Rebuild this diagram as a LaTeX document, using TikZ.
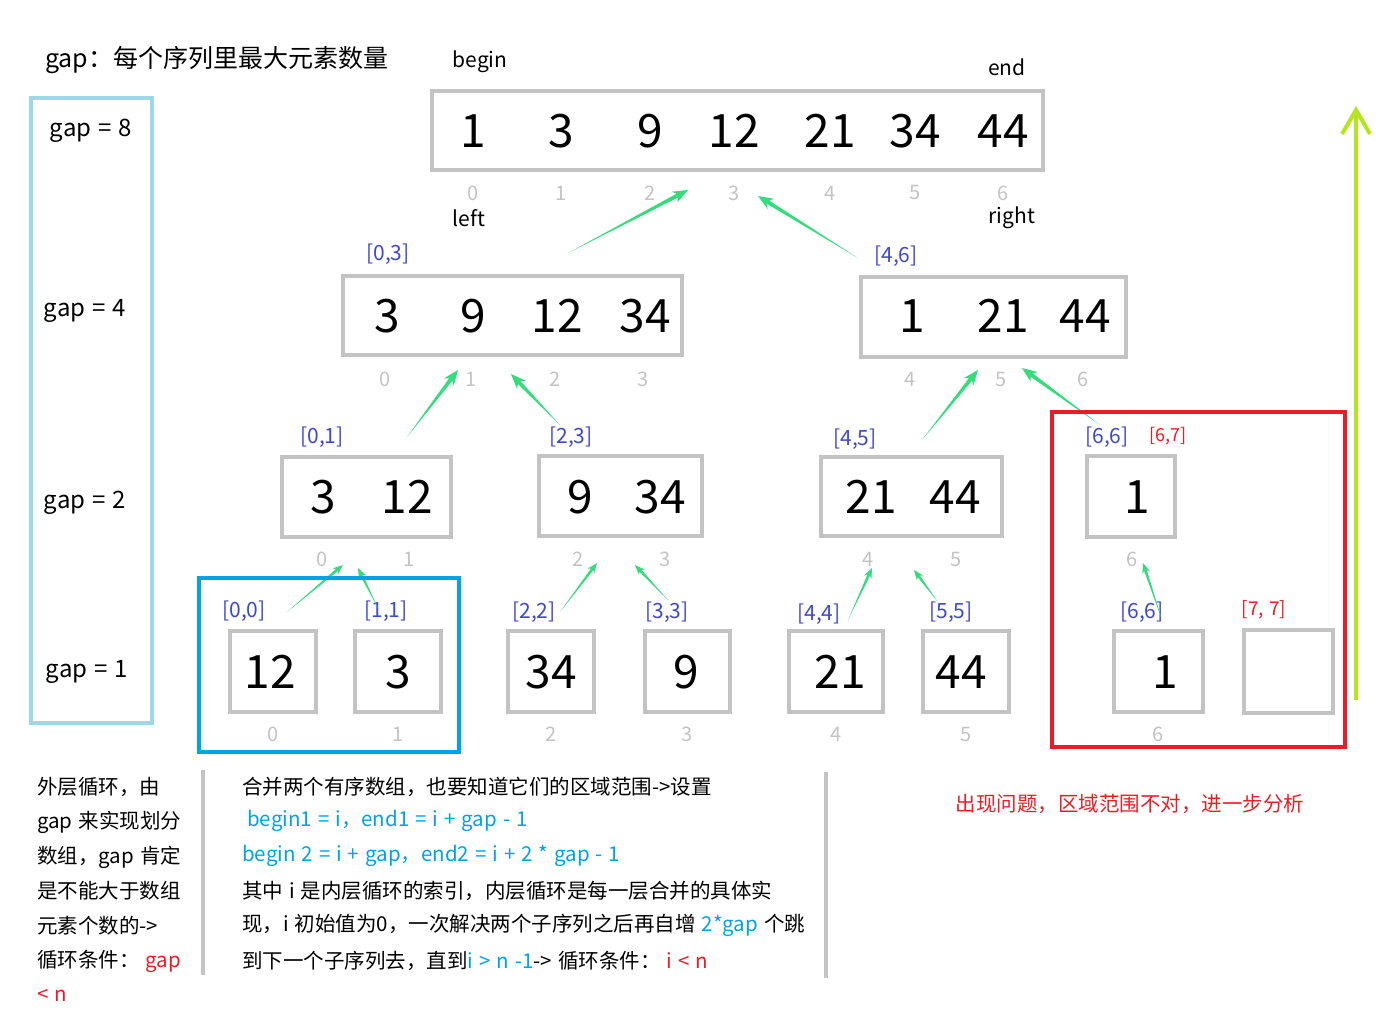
\documentclass[tikz,border=0pt]{standalone}
\usepackage{fontspec}
\setmainfont[WordSpace=1.3]{Noto Sans CJK SC}
\usepackage{tikz}
\usetikzlibrary{arrows.meta,calc}

\definecolor{paintgray}{HTML}{C3C3C3}
\definecolor{paintred}{HTML}{ED1C24}
\definecolor{paintblue}{HTML}{00A2E8}
\definecolor{paintindigo}{HTML}{3F48CC}
\definecolor{paintturq}{HTML}{99D9EA}
\definecolor{paintlime}{HTML}{B5E61D}
\definecolor{arrowgreen}{HTML}{34DC7C}

% tapered green arrow, thin at the tail
\newcommand{\greenarrow}[2]{%
  \fill[arrowgreen] (#1) -- ($(#2)!\arrowlen*0.8!(#1)!\shaftwid!90:(#1)$)
    -- ($(#2)!\arrowlen!(#1)!\arrowwid!90:(#1)$) -- (#2)
    -- ($(#2)!\arrowlen!(#1)!\arrowwid!-90:(#1)$)
    -- ($(#2)!\arrowlen*0.8!(#1)!\shaftwid!-90:(#1)$) -- cycle;}

\begin{document}
\begin{tikzpicture}[x=1pt,y=-1pt,
  cellbox/.style={draw=paintgray, line width=4pt, inner sep=0pt},
  num/.style={font=\fontsize{46}{50}\selectfont},
  idx/.style={text=paintgray, font=\fontsize{20}{24}\selectfont},
  rangelabel/.style={text=paintindigo, font=\fontsize{21}{24}\selectfont},
  plaintext/.style={font=\fontsize{21}{24}\selectfont},
  note/.style={font=\fontsize{20.5}{24}\selectfont, anchor=west, inner sep=0pt}]
  \useasboundingbox (0,0) rectangle (1396,1032);

  % Title and gap panel
  \node[anchor=west, inner sep=0pt, font=\fontsize{25}{28}\selectfont] (title) at (45,60) {gap：每个序列里最大元素数量};
  \draw[paintturq, line width=4pt] (31,98) rectangle (152,723);
  \node[plaintext, font=\fontsize{24}{26}\selectfont] (gap8) at (91,131) {gap = 8};
  \node[plaintext, font=\fontsize{24}{26}\selectfont] (gap4) at (85,311) {gap = 4};
  \node[plaintext, font=\fontsize{24}{26}\selectfont] (gap2) at (85,503) {gap = 2};
  \node[plaintext, font=\fontsize{24}{26}\selectfont] (gap1) at (87,672) {gap = 1};

  % Top row: whole array
  \node[cellbox, minimum width=611pt, minimum height=79pt] (row8) at (737.5,131) {};
  \foreach \v/\x [count=\i from 0] in {1/473,3/561,9/650,12/734,21/830,34/915,44/1003} {
    \node[num] (top\i) at (\x,131) {\v};
    \node[idx] (topidx\i) at (\x,193) {\i};
  }
  \node[plaintext] (begin) at (480,62) {begin};
  \node[plaintext] (end) at (1007,67) {end};
  \node[plaintext] (left) at (469,218) {left};
  \node[plaintext] (right) at (1012,218) {right};

  % gap = 4
  \node[cellbox, minimum width=339pt, minimum height=79pt] (rowfourA) at (512.5,315.5) {};
  \node[cellbox, minimum width=265pt, minimum height=80pt] (rowfourB) at (993.5,317) {};
  \foreach \v/\x/\k in {3/387/0, 9/473/1, 12/557/2, 34/645/3, 1/912/4, 21/1003/5, 44/1085/6} {
    \node[num] (four\k) at (\x,316) {\v};
    \node[idx] (fouridx\k) at (\x-2,379) {\k};
  }

  % gap = 2
  \node[cellbox, minimum width=169pt, minimum height=80pt] (rowtwoA) at (366.5,497) {};
  \node[cellbox, minimum width=163pt, minimum height=80pt] (rowtwoB) at (620.5,496) {};
  \node[cellbox, minimum width=181pt, minimum height=79pt] (rowtwoC) at (911.5,496.5) {};
  \node[cellbox, minimum width=88pt, minimum height=81pt] (rowtwoD) at (1130.5,496) {};
  \foreach \v/\x/\ix/\k in {3/323/322/0, 12/407/409/1, 9/580/578/2, 34/660/665/3, 21/871/868/4, 44/955/956/5, 1/1137/1132/6} {
    \node[num] (two\k) at (\x,497) {\v};
    \node[idx] (twoidx\k) at (\ix,559) {\k};
  }

  % gap = 1
  \foreach \v/\bx/\nx/\w/\k in {12/273/270/86/0, 3/398/398/86/1, 34/551/551/86/2, 9/687/686/85/3, 21/836/840/94/4, 44/966/961/86/5, 1/1158/1165/89/6} {
    \node[cellbox, minimum width=\w pt, minimum height=81pt] (cell\k) at (\bx,671.5) {};
    \node[num] (one\k) at (\nx,672) {\v};
    \node[idx] (oneidx\k) at (\bx,734) {\k};
  }
  \node[cellbox, minimum width=89pt, minimum height=83pt] (cellseven) at (1288.5,671.5) {};

  % Ranges
  \foreach \t/\x/\y/\n in {{[0,3]}/388/254/a, {[4,6]}/896/256/b, {[0,1]}/322/437/c, {[2,3]}/571/437/d,
      {[4,5]}/855/439/e, {[6,6]}/1107/437/f, {[0,0]}/244/611/g, {[1,1]}/386/611/h, {[2,2]}/534/612/i,
      {[3,3]}/667/612/j, {[4,4]}/819/614/k, {[5,5]}/951/612/l, {[6,6]}/1142/612/m} {
    \node[rangelabel] (range\n) at (\x,\y) {\t};
  }
  \node[rangelabel, text=paintred, font=\fontsize{18}{20}\selectfont] (rangesix) at (1168,436) {[6,7]};
  \node[rangelabel, text=paintred, font=\fontsize{19}{22}\selectfont] (rangeseven) at (1264,610) {[7, 7]};

  % Merge arrows
  \def\arrowlen{15pt}\def\arrowwid{6pt}\def\shaftwid{2pt}
  \foreach \i/\tx/\ty/\hx/\hy in {1/568/253/688/190, 2/858/258/758/196, 3/407/437/458/370,
      4/560/425/511/374, 5/922/440/978/370, 6/1100/425/1022/368} {
    \coordinate (tail\i) at (\tx,\ty);
    \coordinate (head\i) at (\hx,\hy);
    \greenarrow{tail\i}{head\i}
  }
  \def\arrowlen{10pt}\def\arrowwid{4pt}\def\shaftwid{1.4pt}
  \foreach \i/\tx/\ty/\hx/\hy in {7/287/612/343/565, 8/378/608/358/568, 9/560/612/597/563,
      10/668/600/635/565, 11/848/620/872/568, 12/938/602/914/570, 13/1162/620/1143/563} {
    \coordinate (tail\i) at (\tx,\ty);
    \coordinate (head\i) at (\hx,\hy);
    \greenarrow{tail\i}{head\i}
  }

  % Frames
  \draw[paintblue, line width=4pt] (199,578) rectangle (459,752);
  \draw[paintred, line width=4pt] (1052,412) rectangle (1345,747);
  \coordinate (upfrom) at (1356,700);
  \coordinate (upto) at (1356,106);
  \draw[paintlime, line width=4pt, -{Straight Barb[length=24pt,width=28pt]}] (upfrom) -- (upto);

  % Notes
  \draw[paintgray, line width=4pt] (203,770) -- (203,975);
  \draw[paintgray, line width=4pt] (826,772) -- (826,978);
  \foreach \t/\y [count=\i] in {{外层循环，由}/787, {gap 来实现划分}/822, {数组，gap 肯定}/857,
      {是不能大于数组}/891, {元素个数的->}/926, {循环条件：\ \textcolor{paintred}{gap}}/961,
      {\textcolor{paintred}{< n}}/995} {
    \node[note] (outer\i) at (37,\y) {\t};
  }
  \node[note] (inner1) at (242,787) {合并两个有序数组，也要知道它们的区域范围->设置};
  \node[note, text=paintblue] (inner2) at (247,821) {begin1 = i，end1 = i + gap - 1};
  \node[note, text=paintblue] (inner3) at (242,856) {begin 2 = i + gap，end2 = i + 2 * gap - 1};
  \node[note] (inner4) at (242,891) {其中 i 是内层循环的索引，内层循环是每一层合并的具体实};
  \node[note] (inner5) at (242,925) {现，i 初始值为0，一次解决两个子序列之后再自增 \textcolor{paintblue}{2*gap} 个跳};
  \node[note] (inner6) at (242,961) {到下一个子序列去，直到\textcolor{paintblue}{i > n -1}-> 循环条件：\ \textcolor{paintred}{i < n}};
  \node[note, anchor=center, text=paintred] (issue) at (1130,804) {出现问题，区域范围不对，进一步分析};
\end{tikzpicture}
\end{document}
